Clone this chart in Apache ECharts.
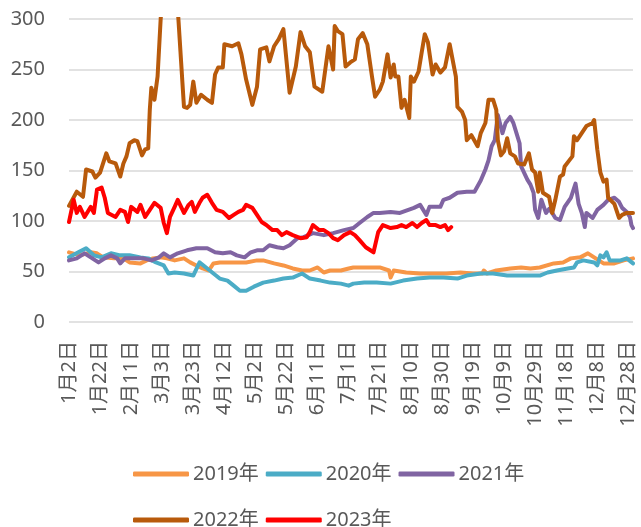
<!DOCTYPE html>
<html>
<head>
<meta charset="utf-8">
<script src="https://cdn.jsdelivr.net/npm/echarts@6/dist/echarts.min.js"></script>
<style>html,body{margin:0;padding:0;background:#fff}#c{width:641px;height:527px}</style>
</head>
<body>
<div id="c"></div>
<script>
// Categories: daily dates 1月2日 .. 12月31日
const monthDays = [31,28,31,30,31,30,31,31,30,31,30,31];
const categories = [];
for (let m = 0; m < 12; m++) {
  for (let d = 1; d <= monthDays[m]; d++) {
    if (m === 0 && d === 1) continue;
    categories.push((m + 1) + '月' + d + '日');
  }
}
const yTicks = [0, 50, 100, 150, 200, 250, 300];
const seriesNames = ['2019年', '2020年', '2021年', '2022年', '2023年'];

// [day index into categories, value]
const s2019 = [[0,69],[7,66],[14,69],[18,68],[22,64],[29,63],[35,63],[39,59],[46,58],[50,61],[54,63],[59,64],[63,63],[68,61],[74,63],[78,59],[82,56],[86,53],[90,51],[93,58],[97,59],[102,59],[108,59],[114,59],[121,61],[125,61],[132,58],[138,56],[144,53],[150,51],[155,51],[160,54],[164,49],[168,51],[175,51],[180,53],[183,54],[192,54],[200,54],[206,51],[207,44],[209,51],[217,49],[226,48],[235,48],[243,48],[252,49],[260,48],[266,48],[267,51],[269,48],[275,51],[284,53],[291,54],[297,53],[303,54],[312,58],[318,59],[323,63],[329,64],[334,68],[338,64],[344,58],[351,58],[357,61],[363,63]];
const s2020 = [[0,64],[6,69],[11,73],[16,66],[21,64],[27,68],[33,66],[39,66],[46,64],[51,63],[56,59],[61,56],[64,48],[68,49],[74,48],[80,46],[84,59],[89,53],[93,48],[97,43],[102,41],[106,36],[110,31],[114,31],[119,35],[125,39],[132,41],[138,43],[144,44],[150,48],[155,43],[162,41],[168,39],[175,38],[180,36],[183,38],[190,39],[198,39],[207,38],[215,41],[224,43],[232,44],[241,44],[250,43],[256,46],[265,48],[273,48],[282,46],[290,46],[299,46],[303,46],[308,49],[314,51],[321,53],[325,54],[327,59],[331,61],[338,59],[340,56],[342,66],[344,64],[346,69],[348,61],[355,61],[359,63],[363,58]];
const s2021 = [[0,61],[5,63],[10,68],[15,63],[19,59],[23,63],[27,66],[31,63],[33,58],[36,63],[41,63],[48,63],[53,61],[58,64],[61,68],[65,64],[70,68],[76,71],[82,73],[89,73],[94,69],[99,68],[104,69],[108,66],[113,64],[117,69],[121,71],[125,71],[129,76],[134,74],[138,73],[142,76],[147,83],[151,84],[157,88],[164,86],[170,88],[177,91],[183,93],[187,98],[192,104],[196,108],[200,108],[207,109],[213,108],[222,113],[226,116],[230,106],[232,114],[239,114],[241,121],[245,123],[250,128],[256,129],[261,129],[265,140],[268,151],[270,160],[272,174],[274,180],[276,205],[279,187],[281,197],[284,203],[286,197],[288,187],[290,177],[291,154],[295,141],[297,136],[299,128],[300,111],[302,103],[304,121],[307,108],[309,112],[311,108],[313,103],[316,101],[319,114],[323,123],[326,137],[328,117],[330,108],[332,94],[333,108],[337,103],[340,111],[344,116],[347,121],[351,123],[354,119],[356,113],[359,109],[361,104],[362,96],[363,93]];
const s2022 = [[0,115],[5,129],[9,124],[11,151],[15,149],[17,143],[20,148],[24,167],[26,159],[30,157],[33,144],[35,157],[37,164],[39,177],[42,180],[44,179],[47,165],[49,171],[51,172],[52,210],[53,232],[55,220],[57,243],[59,300],[61,340],[64,350],[68,340],[70,310],[73,237],[74,213],[76,212],[78,215],[80,238],[82,217],[85,225],[89,220],[92,217],[94,245],[96,252],[99,252],[100,275],[105,273],[109,276],[111,265],[114,240],[118,215],[121,233],[123,270],[127,272],[129,258],[132,273],[135,280],[138,290],[142,227],[146,253],[149,287],[152,273],[155,267],[158,233],[163,228],[167,273],[170,250],[171,293],[173,288],[176,285],[178,253],[181,257],[184,260],[186,280],[189,286],[192,275],[195,243],[197,223],[200,230],[202,238],[205,265],[207,242],[209,255],[210,243],[212,243],[214,212],[216,220],[219,202],[220,243],[222,238],[225,248],[227,267],[229,285],[231,277],[234,245],[236,255],[239,247],[242,252],[245,275],[249,243],[250,213],[253,208],[255,200],[256,180],[259,185],[263,174],[265,187],[268,197],[270,220],[273,220],[275,210],[276,180],[278,165],[280,169],[282,182],[284,167],[287,164],[289,157],[293,156],[296,167],[298,151],[300,148],[302,129],[303,148],[305,128],[309,124],[311,108],[313,121],[316,144],[318,146],[319,154],[322,160],[324,164],[325,184],[327,180],[330,187],[333,194],[337,197],[338,200],[340,171],[342,148],[344,139],[346,141],[347,123],[351,117],[354,103],[356,106],[359,108],[363,108]];
const s2023 = [[0,99],[3,121],[5,108],[7,114],[10,104],[14,114],[16,108],[18,131],[21,133],[23,123],[25,108],[30,104],[33,111],[36,109],[38,99],[40,114],[44,109],[46,116],[49,104],[52,111],[55,118],[59,113],[61,98],[63,88],[65,104],[68,114],[70,121],[74,108],[77,116],[79,119],[81,109],[84,118],[86,123],[89,126],[92,118],[95,111],[99,109],[103,103],[106,106],[109,109],[112,111],[114,116],[118,113],[121,106],[124,99],[127,96],[131,91],[134,91],[137,86],[140,89],[144,86],[149,83],[153,84],[155,89],[157,96],[161,91],[164,91],[167,88],[170,83],[173,81],[177,86],[181,89],[184,86],[187,81],[191,74],[194,71],[196,69],[199,89],[202,96],[207,93],[211,94],[214,96],[217,94],[221,98],[224,94],[227,98],[230,101],[232,96],[236,96],[239,94],[242,96],[244,91],[246,94]];

const colors = ['#F79646', '#4BACC6', '#8064A2', '#B85A0B', '#FF0000'];
const seriesData = [s2019, s2020, s2021, s2022, s2023];
const FONT = '"Noto Sans", "Noto Sans CJK SC", sans-serif';

const chart = echarts.init(document.getElementById('c'), null, {renderer: 'canvas'});
chart.setOption({
  animation: false,
  color: colors,
  grid: {left: 69, right: 8, top: 19, bottom: 205, containLabel: false},
  xAxis: {
    type: 'category',
    data: categories,
    boundaryGap: false,
    axisLine: {show: false},
    axisTick: {show: false},
    axisLabel: {interval: 19, rotate: 90, margin: 19, color: '#595959', fontSize: 20, fontFamily: FONT}
  },
  yAxis: {
    type: 'value',
    min: yTicks[0], max: yTicks[yTicks.length - 1], interval: 50,
    axisLine: {show: false},
    axisTick: {show: false},
    axisLabel: {margin: 24, color: '#595959', fontSize: 20, fontFamily: FONT},
    splitLine: {lineStyle: {color: '#D9D9D9', width: 1.5}}
  },
  legend: [
    {data: seriesNames.slice(0, 3), left: 128, top: 459, itemWidth: 56, itemHeight: 5, itemGap: 7, icon: 'roundRect',
     textStyle: {color: '#595959', fontSize: 20, fontFamily: FONT, padding: [0, 0, 0, -1]}},
    {data: seriesNames.slice(3), left: 128, top: 505, itemWidth: 56, itemHeight: 5, itemGap: 7, icon: 'roundRect',
     textStyle: {color: '#595959', fontSize: 20, fontFamily: FONT, padding: [0, 0, 0, -1]}}
  ],
  series: seriesNames.map((n, i) => ({
    name: n, type: 'line', data: seriesData[i], showSymbol: false, symbol: 'none',
    lineStyle: {width: 4, color: colors[i], cap: 'round', join: 'round'},
    clip: true
  }))
});
</script>
</body>
</html>
